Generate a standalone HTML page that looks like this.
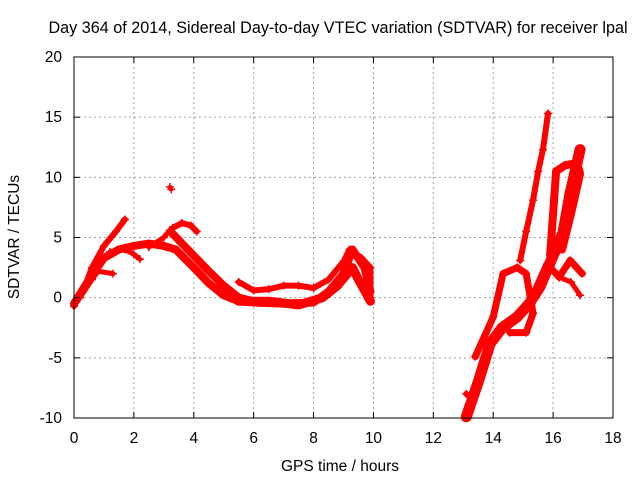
<!DOCTYPE html>
<html><head><meta charset="utf-8"><style>
body{margin:0;background:#fff}
svg text{font-family:"Liberation Sans",sans-serif;font-size:15.5px;fill:#000}
</style></head><body>
<svg id="chart" width="640" height="480" xmlns="http://www.w3.org/2000/svg">
<text x="338" y="33" text-anchor="middle" style="font-size:16.2px">Day 364 of 2014, Sidereal Day-to-day VTEC variation (SDTVAR) for receiver lpal</text>
<text x="340" y="471" text-anchor="middle">GPS time / hours</text>
<text transform="translate(19,237) rotate(-90)" text-anchor="middle">SDTVAR / TECUs</text>
<g id="grid"></g><g id="marks"></g><g id="axes"></g>
</svg>
<script>
const xTicks=[0,2,4,6,8,10,12,14,16,18];
const yTicks=[-10,-5,0,5,10,15,20];
const trackA=[[0,-0.7],[0.3,0.5],[0.6,2.5],[1.0,4.3],[1.4,5.5],[1.7,6.5]];
const trackB=[[0,-0.5],[0.5,1.5],[1.0,3.3],[1.5,4.0],[2.0,4.3],[2.5,4.5],[3.0,4.3],[3.4,4.0],[4.0,2.5],[4.5,1.2],[5.0,0.2],[5.5,-0.3],[6.0,-0.4],[7.0,-0.5],[8.0,-0.4],[8.5,0.5],[9.0,2.0],[9.3,4.0],[9.7,2.5],[9.9,0.5]];
const trackC=[[0.2,0],[0.6,1.5],[0.8,2.2],[1.3,2.0]];
const trackD=[[1.2,3.8],[1.7,4.0],[2.0,3.6],[2.2,3.2]];
const trackE=[[2.5,4.2],[3.0,5.0],[3.2,5.6]];
const trackF=[[3.3,5.8],[3.6,6.2],[3.9,6.0],[4.1,5.5]];
const trackG=[[3.3,5.3],[3.8,4.0],[4.5,2.2],[5.0,1.0],[5.5,0.0],[6.0,-0.3]];
const trackH=[[5.5,1.3],[6.0,0.6],[6.5,0.7],[7.0,1.0],[7.5,1.0],[8.0,0.8],[8.5,1.5],[9.0,3.0],[9.2,4.0],[9.6,3.3],[9.9,2.5],[9.9,0.0]];
const trackI=[[5.5,-0.3],[6.5,-0.3],[7.5,-0.6],[8.3,0],[8.8,1],[9.3,2.5],[9.5,1.5],[9.9,-0.3]];
const trackJ=[[3.2,9.2],[3.25,9.0]];
const trackK=[[13.1,-9.9],[13.5,-7],[13.9,-3.8],[14.3,-2.5],[14.8,-1.6],[15.2,-0.5],[15.56,0.9],[15.9,2.9],[16.33,5.4],[16.57,8.7],[16.9,12.3]];
const trackL=[[14.9,3.1],[15.1,5.5],[15.33,8.1],[15.5,10.5],[15.66,12.3],[15.83,15.3]];
const trackM=[[15.9,3.5],[16.0,7],[16.1,10.5],[16.4,11],[16.8,11.2],[16.9,10.3],[16.6,7],[16.3,4]];
const trackN=[[13.4,-4.9],[14.0,-1.6],[14.33,2.0],[14.8,2.5],[15.1,2.0],[15.33,-1.3],[15.1,-2.9],[14.56,-2.9]];
const trackO=[[15.2,-0.5],[15.8,2.8],[16.2,1.7],[16.57,3.1],[16.97,2.0]];
const trackP=[[16.2,1.7],[16.6,1.3],[16.9,0.2]];
const trackQ=[[13.1,-8],[13.3,-8.3],[13.2,-9]];
const tracks=[[trackA,6],[trackB,8],[trackC,5],[trackD,5],[trackE,5],[trackF,6],[trackG,8],[trackH,6],[trackI,9],[trackJ,4],[trackK,11],[trackL,6],[trackM,8],[trackN,7],[trackO,7],[trackP,5],[trackQ,6]];
const X0=74,X1=613,Y0=418,Y1=57;
const xs=v=>X0+(v-0)/18*(X1-X0);
const ys=v=>Y0-(v+10)/30*(Y0-Y1);
const NS="http://www.w3.org/2000/svg";
function mk(t,a,p){const e=document.createElementNS(NS,t);for(const k in a)e.setAttribute(k,a[k]);p.appendChild(e);return e;}
const grid=document.getElementById('grid'),axes=document.getElementById('axes'),marks=document.getElementById('marks');
xTicks.forEach(t=>{const x=xs(t);
 if(t>0&&t<18){const g=mk('line',{x1:x,x2:x,y1:Y1,y2:Y0,stroke:'#a0a0a0','stroke-dasharray':'2,3'},grid);
 
 }
 mk('line',{x1:x,x2:x,y1:Y0,y2:Y0-6,stroke:'#000'},axes);mk('line',{x1:x,x2:x,y1:Y1,y2:Y1+6,stroke:'#000'},axes);
 const l=mk('text',{x:x,y:443,'text-anchor':'middle'},axes);l.textContent=t;
 
 });
yTicks.forEach(t=>{const y=ys(t);
 if(t>-10&&t<20){const g=mk('line',{x1:X0,x2:X1,y1:y,y2:y,stroke:'#a0a0a0','stroke-dasharray':'2,3'},grid);
 
 }
 mk('line',{x1:X0,x2:X0+6,y1:y,y2:y,stroke:'#000'},axes);mk('line',{x1:X1,x2:X1-6,y1:y,y2:y,stroke:'#000'},axes);
 const l=mk('text',{x:62,y:y+5,'text-anchor':'end'},axes);l.textContent=t;
 
 });
const fr=mk('rect',{x:X0,y:Y1,width:X1-X0,height:Y0-Y1,fill:'none',stroke:'#000'},axes);


tracks.forEach(([tr,w])=>{
 const p=mk('polyline',{points:tr.map(d=>xs(d[0])+','+ys(d[1])).join(' '),fill:'none',stroke:'#ff0000','stroke-width':w,'stroke-linejoin':'round','stroke-linecap':'round'},marks);
 
 
 tr.forEach(d=>{const x=xs(d[0]),y=ys(d[1]);
  const m=mk('path',{d:`M${x-4},${y}H${x+4}M${x},${y-4}V${y+4}`,stroke:'#ff0000','stroke-width':1.5},marks);
  
  });
});
</script>
</body></html>
